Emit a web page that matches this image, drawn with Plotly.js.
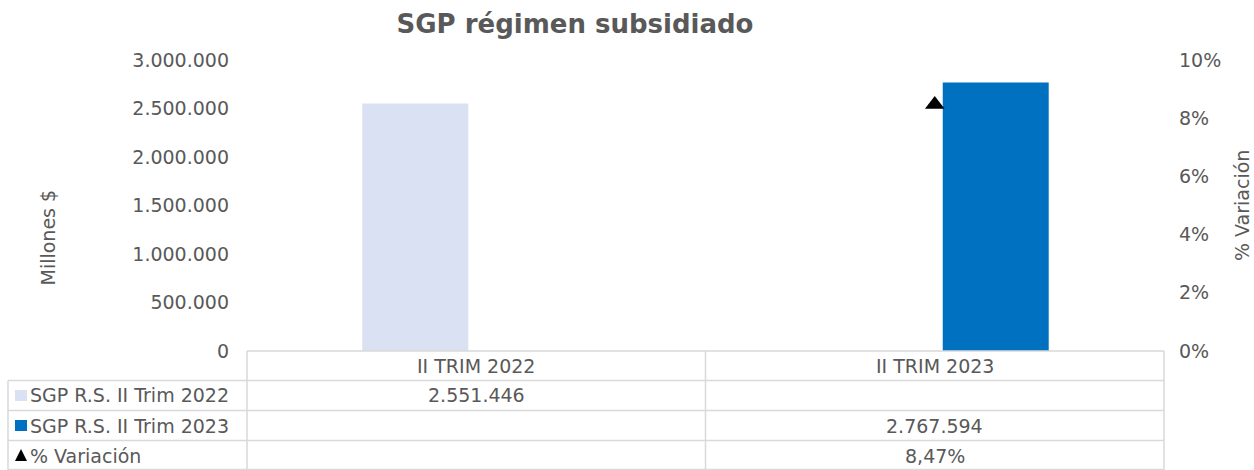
<!DOCTYPE html>
<html>
<head>
<meta charset="utf-8">
<script src="https://cdn.plot.ly/plotly-3.0.1.min.js"></script>
<style>
  html, body { margin: 0; padding: 0; background: #ffffff; }
  #chart { width: 1254px; height: 470px; }
</style>
</head>
<body>
<div id="chart"></div>
<script>
// ---- Data ----
const categories = ["II TRIM 2022", "II TRIM 2023"];
const seriesNames = ["SGP R.S. II Trim 2022", "SGP R.S. II Trim 2023", "% Variación"];
const sgp2022 = [2551446, null];
const sgp2023 = [null, 2767594];
const variacion = [null, 0.0847];
const leftTicks = [0, 500000, 1000000, 1500000, 2000000, 2500000, 3000000];
const rightTicks = [0, 0.02, 0.04, 0.06, 0.08, 0.10];

// ---- Helpers ----
function fmtThousands(v) {
  return String(Math.round(v)).replace(/\B(?=(\d{3})+(?!\d))/g, ".");
}
function fmtPct(v) {
  return (v * 100).toFixed(2).replace(".", ",") + "%";
}

const textColor = "#595959";
const lineColor = "#d9d9d9";
const fontFam = "DejaVu Sans, Verdana, sans-serif";
const colLight = "#d9e1f2";
const colBlue = "#0070c0";
const fs = 19;

// layout geometry (pixels -> paper)
const L = 247, R = 1164, T = 60, B = 351;
const W = R - L, H = B - T;
const px = x => (x - L) / W;
const py = y => (B - y) / H;

const traces = [
  { type: "bar", name: seriesNames[0], x: categories, y: sgp2022,
    marker: { color: colLight }, hoverinfo: "skip" },
  { type: "bar", name: seriesNames[1], x: categories, y: sgp2023,
    marker: { color: colBlue }, hoverinfo: "skip" },
  { type: "scatter", mode: "markers", name: seriesNames[2], x: categories, y: variacion,
    yaxis: "y2", marker: { symbol: "triangle-up", color: "#000000", size: 17 },
    hoverinfo: "skip" }
];

// table lines
const shapes = [];
const hLineYs = [351, 380.5, 410.5, 440.5, 469.5];
hLineYs.forEach((y, i) => {
  shapes.push({ type: "line", xref: "paper", yref: "paper",
    x0: i === 0 ? px(247) : px(8), x1: px(1164), y0: py(y), y1: py(y),
    line: { color: lineColor, width: 1.5 } });
});
[247, 705.5, 1164].forEach(x => {
  shapes.push({ type: "line", xref: "paper", yref: "paper",
    x0: px(x), x1: px(x), y0: py(351), y1: py(470),
    line: { color: lineColor, width: 1.5 } });
});
shapes.push({ type: "line", xref: "paper", yref: "paper",
  x0: px(8), x1: px(8), y0: py(380.5), y1: py(470),
  line: { color: lineColor, width: 1.5 } });

// legend keys in table
shapes.push({ type: "rect", xref: "paper", yref: "paper",
  x0: px(15), x1: px(27), y0: py(390), y1: py(401),
  fillcolor: colLight, line: { width: 0 } });
shapes.push({ type: "rect", xref: "paper", yref: "paper",
  x0: px(15), x1: px(27), y0: py(420), y1: py(431),
  fillcolor: colBlue, line: { width: 0 } });
shapes.push({ type: "path", xref: "paper", yref: "paper",
  path: "M " + px(15) + " " + py(461) + " L " + px(27) + " " + py(461) + " L " + px(21) + " " + py(449) + " Z",
  fillcolor: "#000000", line: { width: 0 } });

const tblFont = { family: fontFam, size: fs, color: textColor };
const annotations = [];
const rowY = [365.5, 395.5, 425.5, 455.5];

// header row
categories.forEach(c => {
  annotations.push({ xref: "x", yref: "paper", x: c, y: py(rowY[0]),
    text: c, showarrow: false, xanchor: "center", yanchor: "middle", font: tblFont });
});
// row labels
seriesNames.forEach((n, i) => {
  annotations.push({ xref: "paper", yref: "paper", x: px(28), y: py(rowY[i + 1]),
    text: n, showarrow: false, xanchor: "left", yanchor: "middle", font: tblFont });
});
// values
const rows = [sgp2022, sgp2023, variacion];
rows.forEach((arr, r) => {
  arr.forEach((v, c) => {
    if (v === null) return;
    annotations.push({ xref: "x", yref: "paper", x: categories[c], y: py(rowY[r + 1]),
      text: r === 2 ? fmtPct(v) : fmtThousands(v), showarrow: false,
      xanchor: "center", yanchor: "middle", font: tblFont });
  });
});
// axis titles
annotations.push({ xref: "paper", yref: "paper", x: px(47), y: py(237.5),
  text: "Millones $", textangle: -90, showarrow: false,
  xanchor: "center", yanchor: "middle", font: tblFont });
annotations.push({ xref: "paper", yref: "paper", x: px(1242), y: py(206),
  text: "% Variación", textangle: -90, showarrow: false,
  xanchor: "center", yanchor: "middle", font: tblFont });

const layout = {
  width: 1254, height: 470,
  margin: { l: L, r: 1254 - R, t: T, b: 470 - B, pad: 0 },
  paper_bgcolor: "#ffffff", plot_bgcolor: "#ffffff",
  separators: ",.",
  showlegend: false,
  barmode: "group",
  bargap: 0.468,
  bargroupgap: 0.131,
  title: { text: "SGP régimen subsidiado", x: 575 / 1254, xref: "container", xanchor: "center",
    y: 1 - 24 / 470, yref: "container", yanchor: "middle",
    font: { family: fontFam, size: 26, color: textColor, weight: "bold" } },
  xaxis: { type: "category", showticklabels: false, showgrid: false, zeroline: false,
    showline: false, ticks: "", fixedrange: true },
  yaxis: { range: [0, 3000000], tickvals: leftTicks, tickformat: ",d",
    showgrid: false, zeroline: false, showline: false, ticks: "",
    ticklabelstandoff: 17,
    tickfont: { family: fontFam, size: fs, color: textColor } },
  yaxis2: { overlaying: "y", side: "right", range: [0, 0.1], tickvals: rightTicks,
    tickformat: ".0%", showgrid: false, zeroline: false, showline: false, ticks: "",
    ticklabelstandoff: 14,
    tickfont: { family: fontFam, size: fs, color: textColor } },
  shapes: shapes,
  annotations: annotations
};

Plotly.newPlot("chart", traces, layout, { staticPlot: true, displayModeBar: false });
</script>
</body>
</html>
